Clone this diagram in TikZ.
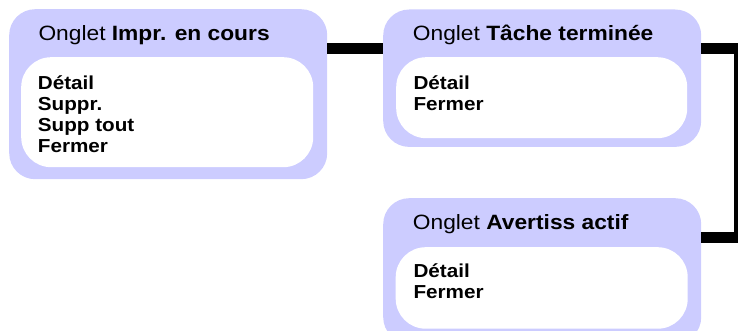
\documentclass[tikz,border=0pt]{standalone}
\usepackage{fontspec}
\setmainfont{Liberation Sans}[FakeStretch=1.1]
\definecolor{tabpurple}{RGB}{204,204,255}
\begin{document}
\begin{tikzpicture}[x=1pt,y=-1pt,
  outerbox/.style={draw=none,fill=tabpurple,rounded corners=26pt,anchor=north west,inner sep=0pt,minimum width=318pt},
  innerbox/.style={draw=none,fill=white,rounded corners=30pt,anchor=north west,inner sep=0pt,minimum width=292pt},
  tabtitle/.style={anchor=base west,inner sep=0pt,font=\fontsize{20.7}{24}\selectfont},
  tabbody/.style={anchor=base west,inner sep=0pt,align=left,font=\fontsize{18.8}{21}\selectfont\bfseries},
  conn/.style={line width=11pt,black,line join=miter}]
\useasboundingbox (0,0) rectangle (738,331);
% boxes
\node[outerbox,minimum height=170pt] (b1) at (9,9) {};
\node[outerbox,minimum height=137.4pt] (b2) at (383,9.3) {};
\node[outerbox,minimum height=145pt] (b3) at (383,198) {};
\node[innerbox,minimum height=110pt] (w1) at (21,57) {};
\node[innerbox,minimum height=81pt,minimum width=291pt] (w2) at (396,57) {};
\node[innerbox,minimum height=81.5pt] (w3) at (395.5,247) {};
% connectors
\draw[conn] ([yshift=-39.5pt]b1.north east) -- ([yshift=-39.2pt]b2.north west);
\draw[conn] ([yshift=-39.2pt]b2.north east) -- ++(38,0) coordinate (rc) |- ([yshift=-39.2pt]b3.north east);
% texts (base anchor = baseline of last line)
\node[tabtitle] (t1) at (38.3,40.5) {Onglet \textbf{Impr. en cours}};
\node[tabbody] (l1) at (37.7,152.3) {Détail\\Suppr.\\Supp tout\\Fermer};
\node[tabtitle] (t2) at (412.7,40.3) {Onglet \textbf{Tâche terminée}};
\node[tabbody] (l2) at (413.3,110.2) {Détail\\Fermer};
\node[tabtitle] (t3) at (412.7,229.7) {Onglet \textbf{Avertiss actif}};
\node[tabbody] (l3) at (413.3,298.5) {Détail\\Fermer};
\end{tikzpicture}
\end{document}
